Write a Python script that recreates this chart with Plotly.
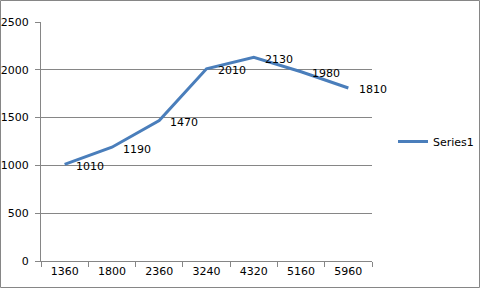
import plotly.graph_objects as go

categories = ["1360", "1800", "2360", "3240", "4320", "5160", "5960"]
values = [1010, 1190, 1470, 2010, 2130, 1980, 1810]
y_ticks = [0, 500, 1000, 1500, 2000, 2500]
series_name = "Series1"

W, H = 481, 289
ML, MR, MT, MB = 41, 109, 22, 28
pw, ph = W - ML - MR, H - MT - MB

fig = go.Figure()
fig.add_trace(go.Scatter(
    x=categories, y=values, mode="lines", name=series_name,
    line=dict(color="#4A7EBB", width=3),
))
for i, v in enumerate(values):
    fig.add_annotation(x=i, y=v, xref="x", yref="y", text=str(v), showarrow=False,
                       xanchor="left", yanchor="middle", xshift=9, yshift=-2,
                       font=dict(family="DejaVu Sans", size=11, color="#000000"))

fig.add_shape(type="rect", xref="paper", yref="paper",
              x0=-ML / pw + 0.5 / pw, x1=1 + (MR - 1.5) / pw,
              y0=-MB / ph + 1.5 / ph, y1=1 + (MT - 0.5) / ph,
              line=dict(color="#868686", width=1), layer="below")

fig.update_layout(
    width=W, height=H, margin=dict(l=ML, r=MR, t=MT, b=MB, autoexpand=False),
    paper_bgcolor="white", plot_bgcolor="white",
    font=dict(family="DejaVu Sans", size=11, color="#000"),
    showlegend=True,
    legend=dict(x=(393 - ML) / pw, y=0.5, xanchor="left", yanchor="middle",
                font=dict(size=11), itemwidth=30, tracegroupgap=0,
                bgcolor="rgba(0,0,0,0)"),
    xaxis=dict(type="category", range=[-0.5, 6.5], showgrid=False,
               showline=True, linecolor="#868686", linewidth=1,
               ticks="outside", tickson="boundaries", ticklen=5, tickcolor="#868686",
               tickfont=dict(size=11)),
    yaxis=dict(range=[0, 2500], tickvals=y_ticks, showgrid=True, gridcolor="#868686",
               gridwidth=1, showline=True, linecolor="#868686", linewidth=1,
               ticks="outside", ticklen=5, tickcolor="#868686", zeroline=False,
               tickfont=dict(size=11), ticklabelstandoff=4),
)
fig.write_html("out.html")
